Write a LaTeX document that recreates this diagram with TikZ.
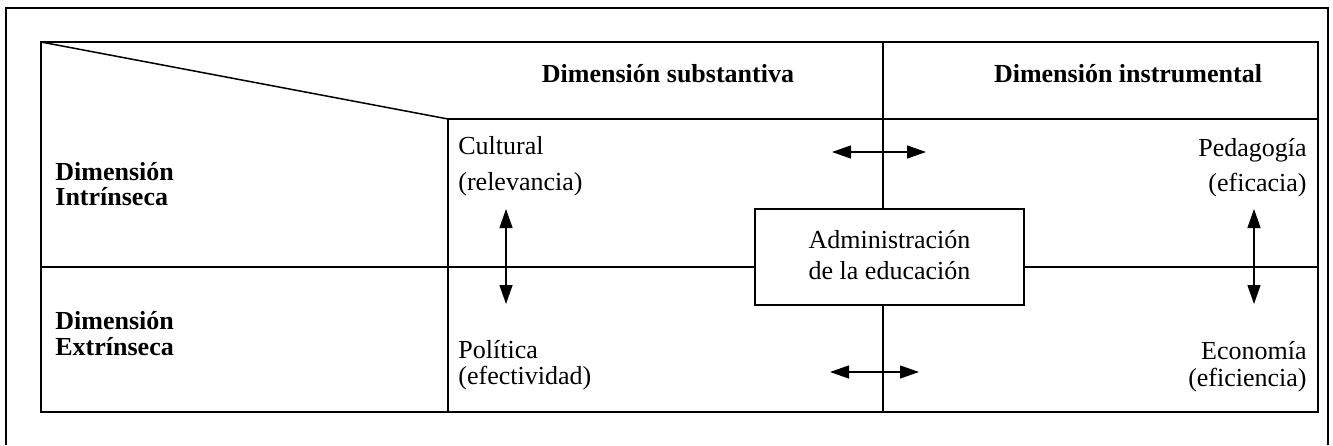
\documentclass[tikz,border=0pt]{standalone}
\usepackage{fontspec}
\setmainfont{Liberation Serif}
\usetikzlibrary{arrows.meta}
\tikzstyle{gridline} = [line width=0.75pt]
\tikzstyle{txt} = [inner sep=0pt, font=\fontsize{13}{13}\selectfont]
\tikzstyle{head} = [txt, font=\fontsize{13}{13}\selectfont\bfseries]
\tikzstyle{adminBox} = [draw, gridline, inner sep=0pt, align=center,
   minimum width=134.5pt, minimum height=48pt, text depth=2.4pt,
   font=\fontsize{13}{15.5}\selectfont]
\tikzstyle{dblArrow} = [line width=0.65pt,
   {Triangle[length=9.5pt,width=6.5pt]}-{Triangle[length=9.5pt,width=6.5pt]}]

\begin{document}
\begin{tikzpicture}[x=0.5pt,y=-0.5pt]
  \useasboundingbox (0,0) rectangle (1333,445);

  % frame and table
  \draw[gridline] (6,445) -- (6,8) -- (1328,8) -- (1328,445);
  \coordinate (tl) at (41,42);
  \coordinate (br) at (1318,412);
  \coordinate (hd) at (448,119);
  \draw[gridline] (tl) rectangle (br);
  \draw[gridline] (tl) -- (hd);
  \draw[gridline] (hd) -- (hd -| br);
  \draw[gridline] (hd) -- (hd |- br);

  \node[adminBox] (admin) at (889.5,257) {Administración\\de la educación};

  % lines through the box
  \coordinate (colT) at (883,42);
  \coordinate (colB) at (883,412);
  \coordinate (midL) at (41,267);
  \coordinate (midR) at (1318,267);
  \draw[gridline] (colT) -- (colT |- admin.north);
  \draw[gridline] (colB |- admin.south) -- (colB);
  \draw[gridline] (midL) -- (midL -| admin.west);
  \draw[gridline] (midR -| admin.east) -- (midR);

  % headers (base = last line)
  \node[head, anchor=base] (subst) at (668,82) {Dimensión substantiva};
  \node[head, anchor=base] (instr) at (1128,82) {Dimensión instrumental};
  \node[head, anchor=base west, align=left, font=\fontsize{13}{12.5}\selectfont\bfseries]
     (intr) at (55,205) {Dimensión\\Intrínseca};
  \node[head, anchor=base west, align=left, font=\fontsize{13}{13}\selectfont\bfseries]
     (extr) at (55,355) {Dimensión\\Extrínseca};

  % cells
  \node[txt, anchor=base west, align=left, font=\fontsize{13}{18}\selectfont]
     (cult) at (458,190) {Cultural\\(relevancia)};
  \node[txt, anchor=base east, align=right, font=\fontsize{13}{17.5}\selectfont]
     (peda) at (1307,191) {Pedagogía\\(eficacia)};
  \node[txt, anchor=base west, align=left]
     (poli) at (458,384) {Política\\(efectividad)};
  \node[txt, anchor=base east, align=right, font=\fontsize{13}{13.5}\selectfont]
     (econ) at (1307,386) {Economía\\(eficiencia)};

  % arrows
  \coordinate (cultA) at (506,209);
  \coordinate (poliA) at (506,304);
  \coordinate (pedaA) at (1254,209);
  \coordinate (econA) at (1254,304);
  \coordinate (topL) at (832,152);
  \coordinate (topR) at (926,152);
  \coordinate (botL) at (830,372);
  \coordinate (botR) at (919,372);
  \draw[dblArrow] (cultA) -- (poliA);
  \draw[dblArrow] (pedaA) -- (econA);
  \draw[dblArrow] (topL) -- (topR);
  \draw[dblArrow] (botL) -- (botR);
\end{tikzpicture}
\end{document}
